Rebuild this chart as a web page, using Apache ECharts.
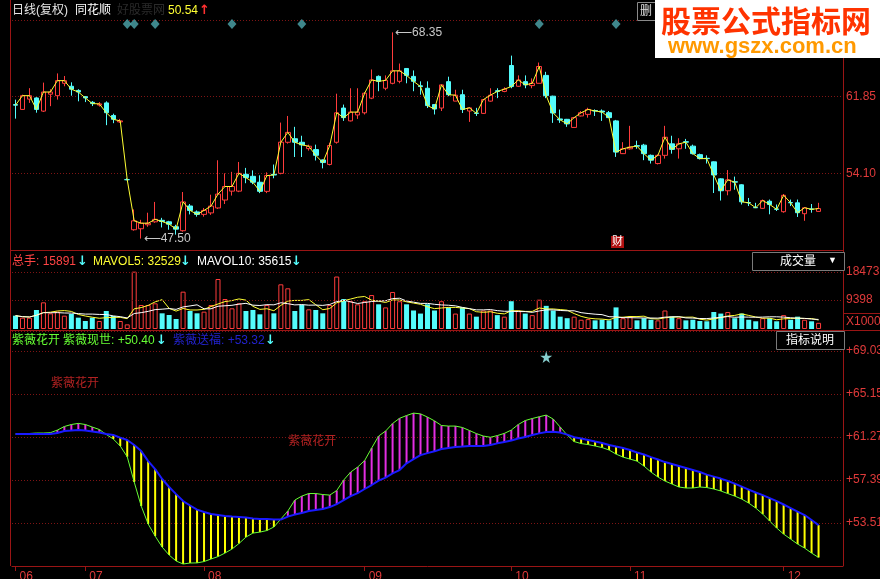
<!DOCTYPE html>
<html><head><meta charset="utf-8">
<script src="https://cdn.jsdelivr.net/npm/echarts@6/dist/echarts.min.js"></script>
<style>html,body{margin:0;padding:0;background:#000;}#c{width:880px;height:579px;}</style>
</head><body><div id="c"></div>
<script>
// ---------- data ----------
const months = ['06','07','08','09','10','11','12'];
const monthStart = [0,10,27,50,71,88,110];
const opens = [
61.05,60.56,61.6,61.72,60.39,62.1,61.95,63.2,62.9,62.48,
61.85,61.28,61.0,61.22,59.95,59.3,53.46,48.4,48.5,48.9,
49.2,49.35,49.2,48.7,48.3,50.8,50.2,49.95,50.1,50.6,
51.4,52.3,52.3,54.0,53.8,53.2,52.28,54.0,54.1,57.24,
57.6,57.24,56.6,56.5,55.45,55.0,57.24,60.7,59.4,60.0,
60.22,61.7,63.9,62.7,63.2,63.4,64.7,63.9,62.95,62.7,
61.05,60.7,63.37,61.4,62.05,60.4,60.2,60.16,61.4,62.45,
62.38,65.0,62.9,63.37,62.97,63.2,64.0,61.9,59.6,59.56,
58.74,59.9,60.06,60.45,60.4,60.23,59.4,56.09,56.58,56.9,
56.95,55.92,55.09,55.92,57.08,56.58,57.3,56.85,55.99,55.62,
55.26,53.54,52.34,53.25,52.94,51.15,50.65,50.56,51.28,50.5,
50.22,51.15,51.12,50.02,50.5,50.25];
const closes = [
60.99,61.95,61.95,60.56,62.32,62.32,63.47,63.47,62.6,62.32,
61.72,61.15,61.12,60.23,59.56,59.4,53.46,49.3,49.06,49.06,
49.45,49.23,48.96,48.46,51.21,50.35,49.95,50.35,50.79,52.0,
52.77,52.77,54.1,53.67,53.2,52.28,53.87,53.93,57.25,58.24,
57.24,56.98,56.84,55.92,55.19,56.91,60.22,59.73,60.29,60.29,
62.2,63.54,63.4,63.5,64.46,64.46,64.0,63.4,62.87,60.95,
60.6,63.04,62.05,62.0,60.55,60.72,60.16,61.55,62.0,62.38,
62.61,62.87,63.54,63.04,63.2,64.9,61.95,60.2,59.5,59.1,
59.73,60.23,60.56,60.4,60.3,59.73,56.25,56.58,56.75,56.85,
56.09,55.43,55.92,57.75,56.52,57.08,57.25,56.09,55.59,55.59,
53.93,52.34,53.44,53.21,51.22,51.12,50.62,51.35,50.95,50.46,
51.88,51.12,50.12,50.62,50.46,50.54];
const lows = [
59.63,60.5,61.22,60.23,60.3,60.89,61.55,62.9,61.95,61.38,
61.3,60.9,60.85,58.97,59.17,59.2,53.4,48.3,47.5,48.7,
49.1,48.63,48.4,47.9,48.2,49.95,49.72,49.72,49.9,50.5,
51.0,51.85,52.2,53.1,53.0,52.1,52.1,53.6,54.0,57.1,
55.75,55.75,56.4,55.4,54.6,54.9,57.1,59.4,59.35,59.6,
60.05,61.6,62.4,62.5,63.1,63.2,63.2,62.4,62.05,60.7,
60.05,60.4,61.9,61.4,60.2,59.3,59.9,60.1,61.35,61.7,
62.3,62.7,62.85,62.7,62.7,63.2,61.7,59.2,59.2,58.8,
58.7,59.85,59.73,59.9,59.4,59.7,55.76,56.05,56.5,56.58,
55.43,55.09,55.0,55.59,56.09,55.59,56.58,56.0,55.5,55.09,
52.11,51.35,51.88,52.44,50.95,50.79,50.6,50.5,49.96,50.29,
50.12,50.79,49.69,49.3,50.12,50.22];
const highs = [
61.55,62.05,62.71,61.8,63.27,62.6,64.2,63.94,63.3,62.6,
61.9,61.4,61.3,61.38,60.13,59.6,53.6,50.45,49.4,50.12,
51.21,49.6,49.3,48.9,52.21,51.0,50.35,50.6,51.94,55.42,
54.1,54.25,55.25,54.65,54.4,53.9,54.2,54.99,59.23,59.9,
58.8,57.9,57.0,57.0,55.5,57.2,62.15,61.05,62.7,62.7,
62.3,64.6,64.0,64.0,68.35,65.2,64.7,64.5,63.4,63.4,
61.05,63.1,63.87,62.55,62.55,60.8,60.72,61.6,62.7,62.7,
62.8,66.0,64.0,64.0,63.7,65.3,64.36,61.95,60.55,59.6,
59.8,60.4,60.73,60.56,60.56,60.4,59.5,57.25,58.9,57.4,
57.08,56.0,56.0,58.9,57.9,57.65,57.58,57.0,56.09,55.92,
55.3,53.6,54.43,53.77,53.0,51.61,51.12,51.45,51.45,50.95,
52.01,51.45,51.45,50.69,51.0,51.12];
const volumes = [
4320,3670,3670,6160,8640,5080,5620,4320,4860,3670,
2590,3670,2590,5830,4210,2590,1500,18580,7780,7780,
8320,5080,4540,3240,12100,5830,5080,5620,7780,16200,
9720,6700,8320,5830,6160,4750,7780,5080,14470,13180,
5830,7780,6370,6160,5080,7780,17000,9700,9000,8000,
9000,11000,8000,7000,12000,9000,8000,6000,5000,8000,
6000,9000,7000,5000,7000,5000,4000,6000,6000,4500,
4000,9000,6000,5000,4500,9500,7500,6000,4000,3500,
4000,3000,3200,2800,3000,2800,7000,3500,4000,2800,
3500,3000,2800,6000,4000,3500,2800,3000,2600,2500,
5500,5000,5500,3500,5000,3000,2500,3500,3500,2500,
4500,3000,4000,3000,2500,2000];
const greenVals = [
61.54,61.54,61.59,61.63,61.63,61.66,61.90,62.22,62.40,62.50,
62.40,62.17,61.95,61.50,61.09,60.46,59.49,57.21,55.04,53.42,
52.33,51.34,50.62,50.08,49.81,49.90,49.91,50.03,50.26,50.48,
50.80,51.16,51.66,52.24,52.60,52.69,52.83,53.15,53.87,54.59,
55.58,55.94,56.17,56.17,56.08,56.03,56.44,57.39,58.11,58.56,
59.15,60.27,61.36,61.81,62.49,62.96,63.21,63.43,63.36,63.07,
62.73,62.31,62.26,62.26,62.13,61.86,61.58,61.36,61.25,61.40,
61.60,61.90,62.40,62.76,62.94,63.10,63.25,62.89,62.17,61.45,
60.86,60.68,60.59,60.46,60.32,60.10,59.73,59.46,59.28,59.10,
58.65,58.11,57.66,57.30,57.03,56.76,56.67,56.67,56.76,56.71,
56.58,56.40,56.17,55.94,55.67,55.31,54.86,54.32,53.69,53.06,
52.51,52.06,51.61,51.25,50.80,50.40];
const blueVals = [
61.54,61.54,61.54,61.54,61.54,61.54,61.63,61.81,61.85,61.90,
61.85,61.77,61.67,61.54,61.45,61.22,61.00,60.55,60.00,59.10,
58.38,57.48,56.76,56.12,55.49,55.09,54.72,54.50,54.32,54.23,
54.14,54.09,54.05,54.00,53.91,53.87,53.87,53.82,53.82,54.09,
54.27,54.41,54.59,54.68,54.77,54.95,55.22,55.58,55.94,56.21,
56.58,56.94,57.34,57.61,57.99,58.29,58.90,59.28,59.64,59.82,
59.98,60.19,60.28,60.38,60.41,60.45,60.46,60.46,60.55,60.70,
60.82,60.95,61.13,61.27,61.45,61.60,61.72,61.74,61.67,61.49,
61.25,61.13,61.00,60.86,60.73,60.55,60.41,60.28,60.10,59.87,
59.69,59.46,59.24,59.01,58.83,58.65,58.47,58.29,58.11,57.88,
57.70,57.52,57.30,57.07,56.80,56.53,56.26,56.03,55.76,55.49,
55.18,54.86,54.54,54.23,53.78,53.32];
const priceTicks = [54.10, 61.85];
const volTicks = [9398, 18473];
const indTicks = [53.51, 57.39, 61.27, 65.15, 69.03];
const signalIdx = [16,17,20,31,41,75,86];
const starIdx = [76];
const flowerPts = [[5, 66.06], [39, 60.82]];
const lastPrice = '50.54';
const volHeadVals = [15891, 32529, 35615];
const indHeadVals = ['+50.40', '+53.32'];

// ---------- layout / style ----------
const SLOTS = 119;
const cats = Array.from({length: SLOTS}, (_, i) => String(i));
const RED = '#ff3c3c', CYAN = '#54fcfc', AXR = '#e03a3a', FRAME = '#9a1515', GRID = '#7e1414';
const FONT = "'Liberation Sans','Noto Sans CJK SC',sans-serif";
const pInt = priceTicks[1] - priceTicks[0];
const iInt = indTicks[1] - indTicks[0];

function ma(arr, n) {
  return arr.map((_, i) => { const s = Math.max(0, i - n + 1); let t = 0; for (let k = s; k <= i; k++) t += arr[k]; return Math.round(t / (i - s + 1)); });
}
const hiIdx = highs.indexOf(Math.max(...highs));
const loIdx = lows.indexOf(Math.min(...lows));

function T(x, y, s, color, size, extra) {
  return {type: 'text', x: x, y: y, z: 50, style: Object.assign({text: s, fill: color, font: (size || 12) + 'px ' + FONT, verticalAlign: 'middle'}, extra || {})};
}
function A(x, y, s, color) {
  return {type: 'text', x: x, y: y, z: 50, style: {text: s, fill: color, font: "bold 13px 'DejaVu Sans',sans-serif", verticalAlign: 'middle'}};
}
function L(x1, y1, x2, y2, c) {
  return {type: 'line', z: 40, shape: {x1: x1, y1: y1, x2: x2, y2: y2}, style: {stroke: c || FRAME, lineWidth: 1}};
}
const starPath = 'path://M50,0 L61,35 L98,35 L68,57 L79,91 L50,70 L21,91 L32,57 L2,35 L39,35 Z';

const hiddenX = (gi) => ({type: 'category', gridIndex: gi, data: cats, boundaryGap: true, axisLine: {show: false}, axisTick: {show: false}, axisLabel: {show: false}, splitLine: {show: false}});

const chart = echarts.init(document.getElementById('c'), null, {renderer: 'canvas'});
chart.setOption({
  backgroundColor: '#000',
  animation: false,
  grid: [
    {left: 12, right: 37, top: 20, height: 230, outerBoundsMode: 'none', containLabel: false},
    {left: 12, right: 37, top: 252, height: 77, outerBoundsMode: 'none', containLabel: false},
    {left: 12, right: 37, top: 331, height: 235, outerBoundsMode: 'none', containLabel: false}
  ],
  xAxis: [hiddenX(0), hiddenX(1), {
    type: 'category', gridIndex: 2, data: cats, boundaryGap: true,
    axisLine: {show: true, lineStyle: {color: FRAME}},
    axisTick: {show: true, alignWithLabel: true, length: 5, interval: (i) => monthStart.indexOf(i) >= 0, lineStyle: {color: FRAME}},
    axisLabel: {show: true, interval: (i) => monthStart.indexOf(i) >= 0, formatter: (v, i) => months[monthStart.indexOf(i)] || '', color: AXR, fontSize: 12, fontFamily: FONT, align: 'left', margin: 5, padding: [0, 0, 0, 4]},
    splitLine: {show: false}
  }],
  yAxis: [
    {type: 'value', gridIndex: 0, position: 'right', min: priceTicks[0] - pInt, max: priceTicks[1] + pInt, interval: pInt,
     axisLine: {show: false}, axisTick: {show: false},
     axisLabel: {showMinLabel: false, showMaxLabel: false, color: AXR, fontSize: 12, fontFamily: FONT, margin: 3, formatter: (v) => v.toFixed(2)},
     splitLine: {show: true, lineStyle: {color: GRID, type: [1, 2]}}},
    {type: 'value', gridIndex: 1, position: 'right', min: 0, max: 24950,
     axisLine: {show: false}, axisTick: {show: false}, axisLabel: {show: false}, splitLine: {show: false}},
    {type: 'value', gridIndex: 2, position: 'right', min: indTicks[0] - iInt, max: 70.84, interval: iInt,
     axisLine: {show: false}, axisTick: {show: false},
     axisLabel: {showMinLabel: false, showMaxLabel: false, color: AXR, fontSize: 12, fontFamily: FONT, margin: 3, formatter: (v) => '+' + v.toFixed(2)},
     splitLine: {show: true, lineStyle: {color: GRID, type: [1, 2]}}}
  ],
  series: [
    {type: 'candlestick', xAxisIndex: 0, yAxisIndex: 0, barWidth: 5,
     data: opens.map((o, i) => [o, closes[i], lows[i], highs[i]]),
     itemStyle: {color: 'rgba(0,0,0,0)', color0: CYAN, borderColor: RED, borderColor0: CYAN, borderWidth: 1},
     markPoint: {symbol: 'circle', symbolSize: 1, itemStyle: {color: 'rgba(0,0,0,0)'},
       label: {show: true, position: 'right', distance: 2, color: '#c8c8c8', fontSize: 12, fontFamily: FONT, formatter: (p) => '⟵' + Number(p.value).toFixed(2)},
       data: [{coord: [hiIdx, highs[hiIdx]], value: highs[hiIdx]}, {coord: [loIdx, lows[loIdx]], value: lows[loIdx]}]}},
    {type: 'line', xAxisIndex: 0, yAxisIndex: 0, data: closes, symbol: 'none', lineStyle: {color: '#ffff33', width: 1}, z: 5},
    {type: 'scatter', xAxisIndex: 0, yAxisIndex: 0, symbol: 'diamond', symbolSize: [9, 10], itemStyle: {color: '#4fa8ae'},
     data: signalIdx.map((i) => [i, 69.2])},
    {type: 'bar', xAxisIndex: 1, yAxisIndex: 1, barWidth: 5,
     data: volumes.map((v, i) => ({value: v, itemStyle: closes[i] >= opens[i] ? {color: 'rgba(0,0,0,0)', borderColor: RED, borderWidth: 1} : {color: CYAN}})),
     markLine: {symbol: 'none', silent: true, lineStyle: {color: GRID, type: [1, 2], width: 1},
       label: {show: true, position: 'end', distance: 3, color: AXR, fontSize: 12, fontFamily: FONT, formatter: (p) => String(p.value)},
       data: volTicks.map((v) => ({yAxis: v}))}},
    {type: 'line', xAxisIndex: 1, yAxisIndex: 1, data: ma(volumes, 5), symbol: 'none', lineStyle: {color: '#ffff33', width: 1}},
    {type: 'line', xAxisIndex: 1, yAxisIndex: 1, data: ma(volumes, 10), symbol: 'none', lineStyle: {color: '#ffffff', width: 1}},
    {type: 'custom', xAxisIndex: 2, yAxisIndex: 2,
     data: greenVals.map((g, i) => [i, g, blueVals[i]]),
     encode: {x: 0, y: [1, 2]},
     renderItem: (params, api) => {
       const i = api.value(0), g = api.value(1), b = api.value(2);
       const p1 = api.coord([i, g]), p2 = api.coord([i, b]);
       return {type: 'line', shape: {x1: p1[0], y1: p1[1], x2: p2[0], y2: p2[1]}, style: {stroke: g >= b ? '#e22ee2' : '#ffff00', lineWidth: 2}};
     }},
    {type: 'line', xAxisIndex: 2, yAxisIndex: 2, data: greenVals, symbol: 'none', lineStyle: {color: '#66ff33', width: 1}, z: 6},
    {type: 'line', xAxisIndex: 2, yAxisIndex: 2, data: blueVals, symbol: 'none', lineStyle: {color: '#1a1aff', width: 2}, z: 7},
    {type: 'scatter', xAxisIndex: 2, yAxisIndex: 2, symbol: starPath, symbolSize: 12, itemStyle: {color: '#a8ffff'},
     data: starIdx.map((i) => [i, 68.49])},
    {type: 'scatter', xAxisIndex: 2, yAxisIndex: 2, symbolSize: 1, itemStyle: {color: 'rgba(0,0,0,0)'},
     label: {show: true, position: 'right', distance: 0, color: '#e02a2a', fontSize: 12, fontFamily: FONT, formatter: '紫薇花开'},
     data: flowerPts}
  ],
  graphic: [
    L(10.5, 0, 10.5, 566), L(843.5, 0, 843.5, 566), L(10, 250.5, 843, 250.5), L(10, 330.5, 880, 330.5),
    L(843, 313.5, 880, 313.5),
    // header row (price)
    T(12, 11, '日线(复权)', '#e6e6e6'), T(75, 11, '同花顺', '#ffffff'), T(117, 11, '好股票网', '#2a2a2a'),
    T(168, 11, lastPrice, '#ffff33'), A(199, 11, '↑', '#ff3030'),
    // volume header
    T(12, 262, '总手: ' + volHeadVals[0], '#ff4444'), A(77, 262, '↓', CYAN),
    T(93, 262, 'MAVOL5: ' + volHeadVals[1], '#ffff33'), A(180, 262, '↓', CYAN),
    T(197, 262, 'MAVOL10: ' + volHeadVals[2], '#ffffff'), A(291, 262, '↓', CYAN),
    // indicator header
    T(12, 341, '紫薇花开', '#66ff33'), T(63, 341, '紫薇现世: ' + indHeadVals[0], '#66ff33'), A(156, 341, '↓', CYAN),
    T(173, 341, '紫薇送福: ' + indHeadVals[1], '#2222cc'), A(265, 341, '↓', CYAN),
    // boxes at right
    {type: 'rect', z: 45, shape: {x: 752.5, y: 252.5, width: 92, height: 18}, style: {fill: '#000', stroke: '#7a7a7a', lineWidth: 1}},
    T(780, 262, '成交量', '#ffffff'), T(828, 261, '▼', '#ffffff', 9),
    {type: 'rect', z: 45, shape: {x: 776.5, y: 331.5, width: 68, height: 18}, style: {fill: '#000', stroke: '#7a7a7a', lineWidth: 1}},
    T(786, 341, '指标说明', '#ffffff'),
    T(846, 322, 'X1000', AXR),
    {type: 'rect', z: 45, shape: {x: 637.5, y: 2.5, width: 18, height: 18}, style: {fill: '#000', stroke: '#8a8a8a', lineWidth: 1}},
    T(640, 12, '删', '#e0e0e0'),
    T(611, 242, '财', '#ffffff', 11, {backgroundColor: '#b01010', padding: [1, 1, 0, 1]}),
    // watermark
    {type: 'rect', z: 60, shape: {x: 655, y: 0, width: 225, height: 58}, style: {fill: '#ffffff'}},
    {type: 'text', z: 61, x: 661, y: 21, style: {text: '股票公式指标网', fill: '#ff3300', font: "bold 30px 'Noto Sans CJK SC',sans-serif", verticalAlign: 'middle'}},
    {type: 'text', z: 61, x: 668, y: 47, style: {text: 'www.gszx.com.cn', fill: '#ff9900', font: "bold 22px 'Liberation Sans',sans-serif", verticalAlign: 'middle'}}
  ]
});
</script></body></html>
